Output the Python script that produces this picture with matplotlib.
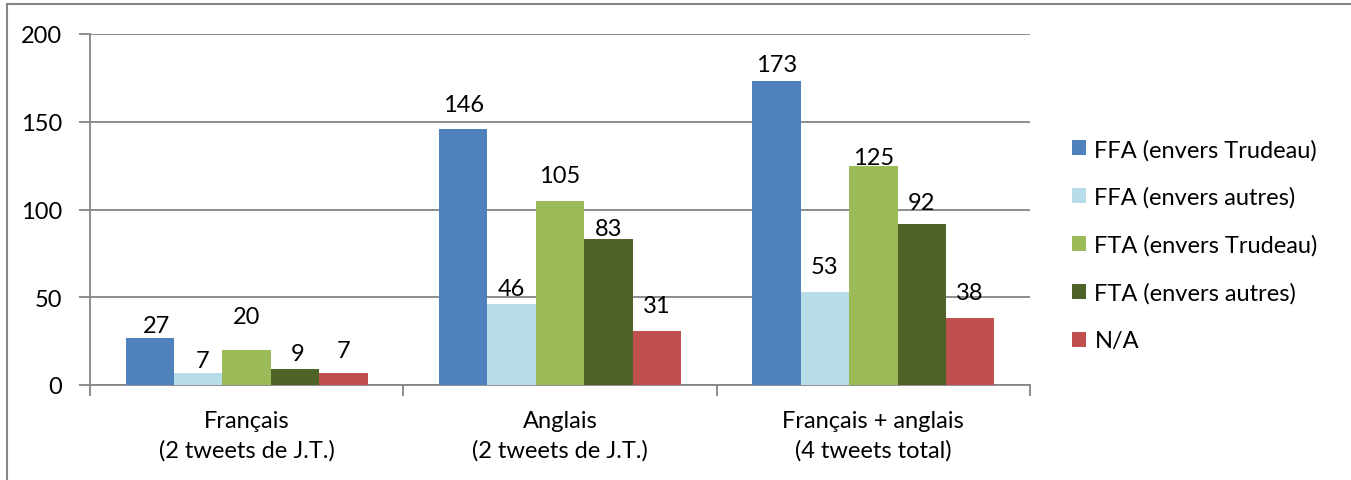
import matplotlib.pyplot as plt
import numpy as np

plt.rcParams['font.family'] = ['Lato', 'DejaVu Sans']

categories = ['Français\n(2 tweets de J.T.)', 'Anglais\n(2 tweets de J.T.)',
              'Français + anglais\n(4 tweets total)']
series_names = ['FFA (envers Trudeau)', 'FFA (envers autres)', 'FTA (envers Trudeau)',
                'FTA (envers autres)', 'N/A']
ffa_trudeau = [27, 146, 173]
ffa_autres = [7, 46, 53]
fta_trudeau = [20, 105, 125]
fta_autres = [9, 83, 92]
na_vals = [7, 31, 38]
colors = ['#4f81bd', '#b7dde8', '#9bbb59', '#4f6228', '#c0504d']

series = [ffa_trudeau, ffa_autres, fta_trudeau, fta_autres, na_vals]

# label offsets (px) above bar top, as placed in the original chart
label_dy = [[6, 18, 10], [6, 9, 19], [27, 19, 2], [9, 4, 15], [16, 19, 19]]
label_dx = [[7, 0, 0], [4, 0, 0], [0, 0, 0], [3, 0, 0], [0, 0, 0]]

fig = plt.figure(figsize=(13.51, 4.81), dpi=100)
ax = fig.add_axes([90 / 1351, 1 - 386 / 481, 940 / 1351, 351 / 481])

x = np.arange(len(categories))
w = 0.1545
grid_c = '#868686'
px = 72 / 100
for i, (vals, name, c) in enumerate(zip(series, series_names, colors)):
    pos = x + (i - 2) * w
    ax.bar(pos, vals, width=w, color=c, label=name, zorder=3)
    for j, (p, v) in enumerate(zip(pos, vals)):
        ax.annotate(str(v), (p, v), xytext=(label_dx[i][j] * px, label_dy[i][j] * px),
                    textcoords='offset points', ha='center', va='baseline',
                    fontsize=17, color='black')

ax.set_xlim(-0.5, 2.5)
ax.set_ylim(0, 200)
ax.set_yticks([0, 50, 100, 150, 200])
ax.yaxis.grid(True, color=grid_c, lw=1.3, zorder=0)
ax.set_xticks(x)
ax.set_xticklabels(categories, fontsize=17, linespacing=1.45)
ax.tick_params(axis='x', length=0, pad=18)
ax.set_xticks([-0.5, 0.5, 1.5, 2.5], minor=True)
ax.tick_params(axis='x', which='minor', length=8, color=grid_c, width=1.3)
ax.tick_params(axis='y', length=8, color=grid_c, width=1.3, labelsize=17, pad=12)
for s in ['top', 'right']:
    ax.spines[s].set_visible(False)
for s in ['left', 'bottom']:
    ax.spines[s].set_color(grid_c)
    ax.spines[s].set_linewidth(1.3)

leg = fig.legend(loc='center left', bbox_to_anchor=(1072 / 1351, 1 - 246 / 481),
                 frameon=False, fontsize=17, handlelength=0.61, handleheight=0.61,
                 handletextpad=0.34, labelspacing=1.12, borderpad=0, borderaxespad=0)

# outer chart border (top and left visible)
fig.add_artist(plt.Line2D([7 / 1351, 7 / 1351], [0, 1 - 5 / 481], color=grid_c, lw=1.5,
                          transform=fig.transFigure))
fig.add_artist(plt.Line2D([7 / 1351, 1], [1 - 5 / 481, 1 - 5 / 481], color=grid_c, lw=1.5,
                          transform=fig.transFigure))

fig.savefig('out.png', dpi=100)
